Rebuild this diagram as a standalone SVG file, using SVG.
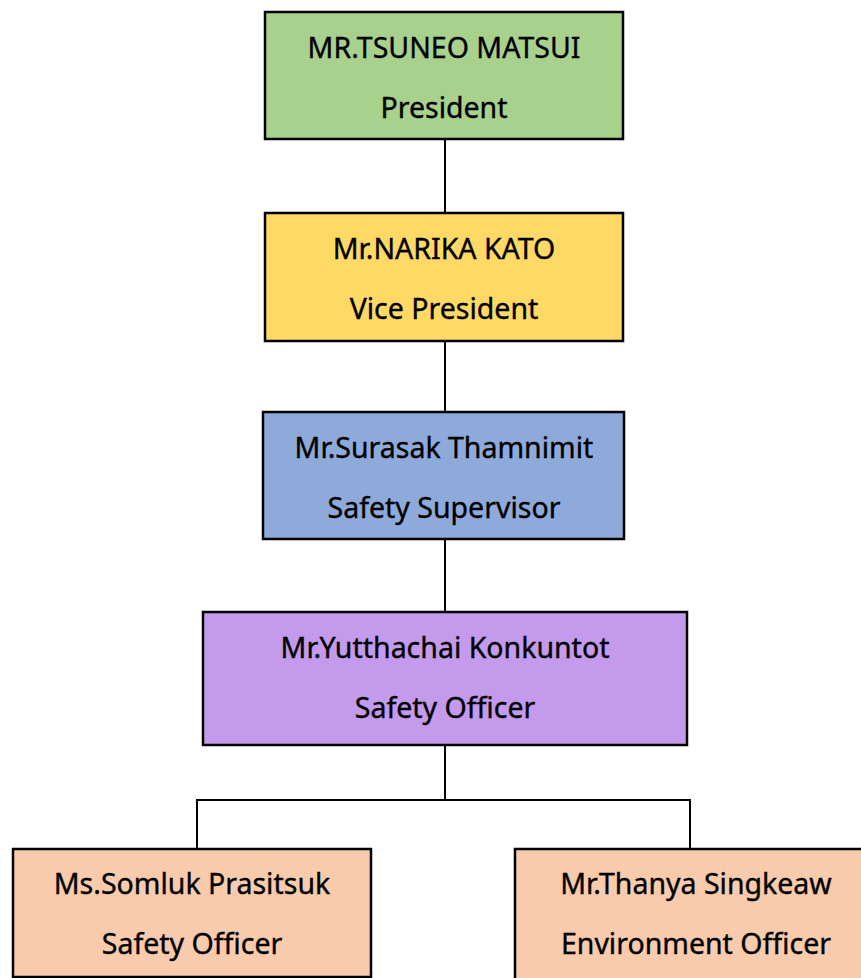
<svg xmlns="http://www.w3.org/2000/svg" width="861" height="978" viewBox="0 0 861 978">
<style>
rect.box{stroke:#000;stroke-width:2.5}
text{font-family:"Noto Sans","Liberation Sans",sans-serif;font-size:28.5px;fill:#000;text-anchor:middle;stroke:#000;stroke-width:0.35}
.conn line{stroke:#000;stroke-width:2}
</style>
<rect width="861" height="978" fill="#fff"/>
<g class="conn">
<line x1="445" y1="139" x2="445" y2="212"/>
<line x1="445" y1="341" x2="445" y2="411"/>
<line x1="445" y1="539" x2="445" y2="612"/>
<line x1="445" y1="745" x2="445" y2="800"/>
<line x1="196" y1="800" x2="691" y2="800"/>
<line x1="197" y1="799" x2="197" y2="848"/>
<line x1="690" y1="799" x2="690" y2="848"/>
</g>
<g id="president">
<rect class="box" x="265" y="12" width="358" height="127" fill="#A9D18E"/>
<text x="444" y="58">MR.TSUNEO MATSUI</text>
<text x="444" y="118">President</text>
</g>
<g id="vice-president">
<rect class="box" x="265" y="213" width="358" height="128" fill="#FFD966"/>
<text x="444" y="259">Mr.NARIKA KATO</text>
<text x="444" y="319">Vice President</text>
</g>
<g id="safety-supervisor">
<rect class="box" x="263" y="412" width="361" height="127" fill="#8EAADB"/>
<text x="444" y="458">Mr.Surasak Thamnimit</text>
<text x="444" y="518">Safety Supervisor</text>
</g>
<g id="safety-officer-main">
<rect class="box" x="203" y="612" width="484" height="133" fill="#C39AEC"/>
<text x="445" y="658">Mr.Yutthachai Konkuntot</text>
<text x="445" y="718">Safety Officer</text>
</g>
<g id="safety-officer-2">
<rect class="box" x="13" y="849" width="358" height="128" fill="#F8CBAD"/>
<text x="192" y="894">Ms.Somluk Prasitsuk</text>
<text x="192" y="954">Safety Officer</text>
</g>
<g id="environment-officer">
<rect class="box" x="515" y="849" width="350" height="132" fill="#F8CBAD"/>
<text x="696" y="894">Mr.Thanya Singkeaw</text>
<text x="696" y="954">Environment Officer</text>
</g>
</svg>
